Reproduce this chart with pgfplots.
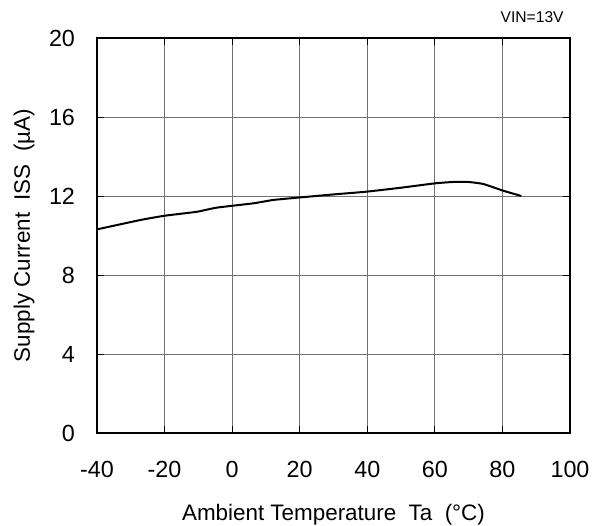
\documentclass[border=0pt]{standalone}
\usepackage{pgfplots}
\pgfplotsset{compat=1.18}
\usepackage{fontspec}
\setmainfont{Liberation Sans}
\begin{document}
\begin{tikzpicture}
\useasboundingbox (-72.75pt,-69pt) rectangle (376.5pt,324.75pt);
\begin{axis}[
  at={(0pt,0pt)}, anchor=south west,
  scale only axis, clip=false,
  width=354.75pt, height=296.25pt,
  xmin=-40, xmax=100, ymin=0, ymax=20,
  xtick={-40,-20,...,100},
  ytick={0,4,...,20},
  grid=major,
  major grid style={black!55, line width=0.75pt},
  axis line style={black, line width=1.5pt},
  tick style={black, line width=0.75pt},
  major tick length=5pt,
  tick align=inside,
  /pgf/number format/assume math mode=true,
  tick label style={font=\fontsize{17.5}{20}\selectfont},
  xticklabel style={yshift=-17.5pt},
  yticklabel style={xshift=-13pt},
  label style={font=\fontsize{16.8}{20}\selectfont},
  xlabel={Ambient Temperature\ \ Ta\ \ (°C)},
  ylabel={Supply Current\ \ ISS\ \ (µA)},
  xlabel style={yshift=-13pt},
  ylabel style={yshift=4pt},
]
\addplot[black, line width=1.5pt, smooth, tension=0.3] coordinates {
(-40,10.31) (-27.3,10.78) (-20,11.0) (-10.5,11.2) (-4.6,11.41) (6.3,11.63) (12.2,11.8)
(20.3,11.93) (30,12.08) (39.8,12.22) (50,12.42) (60,12.64) (65.4,12.71) (69.9,12.71)
(74.3,12.61) (80.2,12.27) (85.6,12.0)
};
\node[font=\fontsize{11.7}{14}\selectfont] at (rel axis cs:0.92,1.053) {VIN=13V};
\end{axis}
\end{tikzpicture}
\end{document}
